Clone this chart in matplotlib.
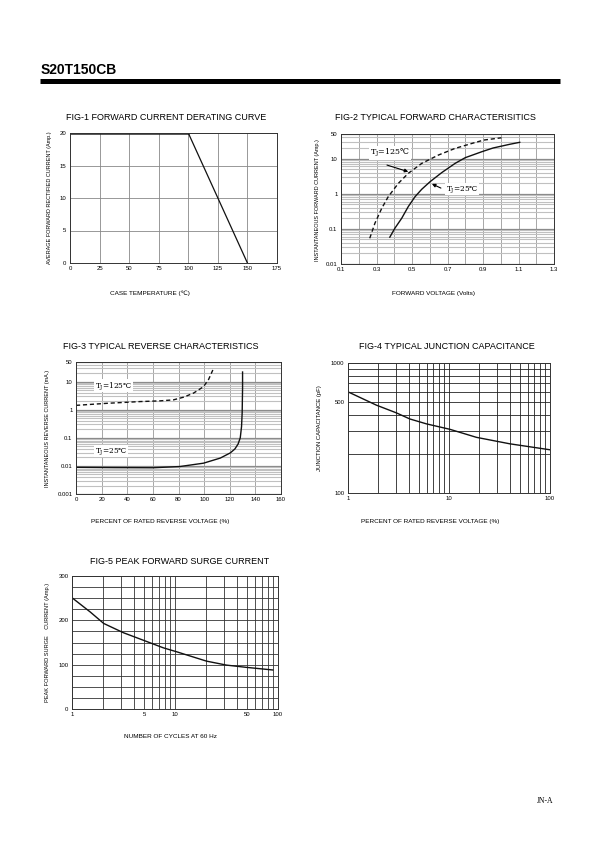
"""
S20T150CB datasheet curves (Fig-1 .. Fig-5)
"""

import matplotlib.pyplot as plt
import numpy as np
from matplotlib.ticker import FixedLocator, NullFormatter

# Fig-1 derating
derate_temp = [0, 100, 150]
derate_amp = [20, 20, 0]

# Fig-2 forward characteristics
fwd_v_125 = [0.262, 0.291, 0.329, 0.366, 0.423, 0.479, 0.555, 0.649, 0.743, 0.838, 0.904, 1.004]
fwd_i_125 = [0.054, 0.144, 0.38, 0.82, 1.97, 3.8, 7.3, 12.6, 19.5, 27, 33.6, 39]
fwd_v_25 = [0.375, 0.404, 0.442, 0.479, 0.517, 0.555, 0.602, 0.668, 0.743, 0.80, 0.894, 0.957, 1.051, 1.107]
fwd_i_25 = [0.058, 0.105, 0.2, 0.43, 0.82, 1.34, 2.2, 4.0, 7.3, 10.6, 15.7, 20, 25.5, 29]

# Fig-3 reverse characteristics
rev_pct_125 = [0, 24, 50, 65.7, 76, 84, 91.7, 99.5, 103.5, 106.8]
rev_ma_125 = [1.43, 1.69, 1.95, 2.07, 2.24, 2.8, 3.9, 6.6, 12, 26]
rev_pct_25 = [0, 30, 60, 81, 99.5, 112.6, 120.4, 124, 126.5, 128.2, 129.2, 129.7, 130, 130]
rev_ma_25 = [0.0089, 0.0087, 0.0086, 0.0095, 0.0125, 0.019, 0.029, 0.04, 0.06, 0.1, 0.25, 0.8, 5.9, 22]

# Fig-4 junction capacitance
cap_pct = [1, 1.91, 3.0, 4.1, 6.0, 10.2, 18.7, 40, 100]
cap_pf = [600, 474, 414, 371, 340, 309, 268, 239, 215]

# Fig-5 surge current
surge_cycles = [1, 1.5, 2.03, 3.16, 4.94, 7.7, 10.4, 20.2, 31.6, 49, 89]
surge_amp = [251, 219, 193, 172, 155, 138, 129, 108, 99, 94, 88]

plt.rcParams['font.family'] = ['Liberation Sans', 'DejaVu Sans']
W, H = 595, 842
fig = plt.figure(figsize=(W / 100, H / 100), dpi=100)
fig.patch.set_facecolor('white')

TICK_FS = 4.3
LAB_FS = 4.6
TITLE_FS = 6.5
SERIF = ['DejaVu Serif']
T125 = 'T$_\\mathregular{J}$=125\u2103'
T25 = 'T$_\\mathregular{J}$=25\u2103'


def make_ax(x0, x1, y0, y1):
    ax = fig.add_axes([x0 / W, 1 - y1 / H, (x1 - x0) / W, (y1 - y0) / H])
    for s in ax.spines.values():
        s.set_linewidth(0.7)
        s.set_color('#333333')
    ax.tick_params(which='both', length=0, pad=2.5, labelsize=TICK_FS)
    ax.set_axisbelow(True)
    return ax


def ftext(x, y, s, **kw):
    fig.text(x / W, 1 - y / H, s, **kw)


def label(ax, x, y, s, fs):
    ax.text(x, y, s, fontsize=fs, family=SERIF, va='center',
            bbox=dict(facecolor='white', edgecolor='none', pad=0.5))


# header
ftext(41, 70, 'S20T150CB', fontsize=10, fontweight='bold', va='center')
fig.add_artist(plt.Line2D([40 / W, 560 / W], [1 - 81 / H, 1 - 81 / H],
                          color='black', linewidth=3.6, solid_capstyle='butt'))
ftext(545, 801, 'JN-A', fontsize=5.5, family=['Liberation Serif'], va='center', ha='center')

# ---------------- Fig-1 ----------------
ax1 = make_ax(70, 277, 133, 263)
ax1.plot(derate_temp[:2], derate_amp[:2], color='#222222', linewidth=1.8)
ax1.plot(derate_temp[1:], derate_amp[1:], color='#111111', linewidth=0.9)
ax1.set_xlim(0, 175)
ax1.set_ylim(0, 20)
ax1.set_xticks(np.arange(0, 176, 25))
ax1.set_yticks(np.arange(0, 21, 5))
ax1.grid(True, color='#888888', linewidth=0.6)
ftext(66, 118, 'FIG-1 FORWARD CURRENT DERATING CURVE', fontsize=TITLE_FS, va='center')
ftext(150, 293, 'CASE TEMPERATURE (\u2103)', fontsize=LAB_FS, ha='center', va='center')
ftext(50, 198, 'AVERAGE FORWARD RECTIFIED CURRENT (Amp.)', fontsize=LAB_FS - 0.6,
      rotation=90, ha='center', va='center')

# ---------------- Fig-2 ----------------
ax2 = make_ax(341, 554, 134, 264)
ax2.set_xlim(0.1, 1.3)
ax2.set_yscale('log')
ax2.set_ylim(0.01, 50)
ax2.set_xticks(np.arange(0.1, 1.31, 0.2))
ax2.set_xticklabels(['0.1', '0.3', '0.5', '0.7', '0.9', '1.1', '1.3'])
ax2.xaxis.set_minor_locator(FixedLocator(np.arange(0.2, 1.3, 0.2)))
ax2.set_yticks([0.01, 0.1, 1, 10, 50])
ax2.set_yticklabels(['0.01', '0.1', '1', '10', '50'])
minors = [m * d for d in [0.01, 0.1, 1, 10] for m in range(2, 10) if m * d < 50]
ax2.yaxis.set_minor_locator(FixedLocator(minors))
ax2.yaxis.set_minor_formatter(NullFormatter())
ax2.grid(True, which='both', axis='x', color='#999999', linewidth=0.6)
ax2.grid(True, which='major', axis='y', color='#888888', linewidth=0.9)
ax2.grid(True, which='minor', axis='y', color='#c0c0c0', linewidth=0.8)
ax2.plot(fwd_v_125, fwd_i_125, color='#111111', linewidth=1.0, linestyle=(0, (3, 2)))
ax2.plot(fwd_v_25, fwd_i_25, color='#111111', linewidth=1.0)
ax2.annotate('', xy=(0.494, 4.0), xytext=(0.344, 6.9),
             arrowprops=dict(arrowstyle='-|>', color='black', lw=0.8, mutation_scale=5))
ax2.annotate('', xy=(0.598, 2.05), xytext=(0.677, 1.34),
             arrowprops=dict(arrowstyle='-|>', color='black', lw=0.8, mutation_scale=5))
label(ax2, 0.263, 14.4, T125, 5.8)
label(ax2, 0.69, 1.34, T25, 5.3)
ftext(335, 118, 'FIG-2 TYPICAL FORWARD CHARACTERISITICS', fontsize=TITLE_FS, va='center')
ftext(434, 293, 'FORWARD VOLTAGE (Volts)', fontsize=LAB_FS, ha='center', va='center')
ftext(318, 200, 'INSTANTANEOUS FORWARD CURRENT (Amp.)', fontsize=LAB_FS - 0.6,
      rotation=90, ha='center', va='center')

# ---------------- Fig-3 ----------------
ax3 = make_ax(76, 281, 362, 494)
ax3.set_xlim(0, 160)
ax3.set_yscale('log')
ax3.set_ylim(0.001, 50)
ax3.set_xticks(np.arange(0, 161, 20))
ax3.set_yticks([0.001, 0.01, 0.1, 1, 10, 50])
ax3.set_yticklabels(['0.001', '0.01', '0.1', '1', '10', '50'])
minors3 = [m * d for d in [0.001, 0.01, 0.1, 1, 10] for m in range(2, 10) if m * d < 50]
ax3.yaxis.set_minor_locator(FixedLocator(minors3))
ax3.yaxis.set_minor_formatter(NullFormatter())
ax3.grid(True, which='major', axis='x', color='#999999', linewidth=0.6)
ax3.grid(True, which='major', axis='y', color='#888888', linewidth=0.9)
ax3.grid(True, which='minor', axis='y', color='#c0c0c0', linewidth=0.8)
ax3.plot(rev_pct_125, rev_ma_125, color='#111111', linewidth=1.0, linestyle=(0, (3, 2)))
ax3.plot(rev_pct_25, rev_ma_25, color='#111111', linewidth=1.0)
label(ax3, 14.5, 7.2, T125, 5.3)
label(ax3, 14.5, 0.033, T25, 5.3)
ftext(63, 347, 'FIG-3 TYPICAL REVERSE CHARACTERISTICS', fontsize=TITLE_FS, va='center')
ftext(160, 522, 'PERCENT OF RATED REVERSE VOLTAGE (%)', fontsize=LAB_FS, ha='center', va='center')
ftext(47, 428, 'INSTANTANEOUS REVERSE CURRENT (mA.)', fontsize=LAB_FS - 0.6,
      rotation=90, ha='center', va='center')

# ---------------- Fig-4 ----------------
ax4 = make_ax(348, 550, 363, 493)
ax4.set_xscale('log')
ax4.set_yscale('log')
ax4.set_xlim(1, 100)
ax4.set_ylim(100, 1000)
ax4.set_xticks([1, 10, 100])
ax4.set_xticklabels(['1', '10', '100'])
ax4.set_yticks([100, 500, 1000])
ax4.set_yticklabels(['100', '500', '1000'])
ax4.xaxis.set_minor_locator(FixedLocator([m * d for d in [1, 10] for m in range(2, 10)]))
ax4.yaxis.set_minor_locator(FixedLocator([200, 300, 400, 600, 700, 800, 900]))
ax4.xaxis.set_minor_formatter(NullFormatter())
ax4.yaxis.set_minor_formatter(NullFormatter())
ax4.grid(True, which='both', color='#222222', linewidth=0.6)
ax4.plot(cap_pct, cap_pf, color='#111111', linewidth=1.0)
ftext(359, 347, 'FIG-4 TYPICAL JUNCTION CAPACITANCE', fontsize=TITLE_FS, va='center')
ftext(430, 522, 'PERCENT OF RATED REVERSE VOLTAGE (%)', fontsize=LAB_FS, ha='center', va='center')
ftext(319, 428, 'JUNCTION CAPACITANCE (pF)', fontsize=LAB_FS - 0.3,
      rotation=90, ha='center', va='center')

# ---------------- Fig-5 ----------------
ax5 = make_ax(72, 278, 576, 709)
ax5.set_xscale('log')
ax5.set_xlim(1, 100)
ax5.set_ylim(0, 300)
ax5.set_xticks([1, 5, 10, 50, 100])
ax5.set_xticklabels(['1', '5', '10', '50', '100'])
ax5.xaxis.set_minor_locator(FixedLocator([m * d for d in [1, 10] for m in range(2, 10) if m != 5]))
ax5.xaxis.set_minor_formatter(NullFormatter())
ax5.set_yticks([0, 100, 200, 300])
ax5.yaxis.set_minor_locator(FixedLocator([25, 50, 75, 125, 150, 175, 225, 250, 275]))
ax5.grid(True, which='both', color='#333333', linewidth=0.6)
ax5.plot(surge_cycles, surge_amp, color='#111111', linewidth=1.0)
ftext(90, 562, 'FIG-5 PEAK FORWARD SURGE CURRENT', fontsize=TITLE_FS, va='center')
ftext(170, 737, 'NUMBER OF CYCLES AT 60 Hz', fontsize=LAB_FS, ha='center', va='center')
ftext(48, 642, 'PEAK FORWARD SURGE    CURRENT (Amp.)', fontsize=LAB_FS - 0.5,
      rotation=90, ha='center', va='center')

plt.savefig('out.png', dpi=100)
print('saved out.png')
